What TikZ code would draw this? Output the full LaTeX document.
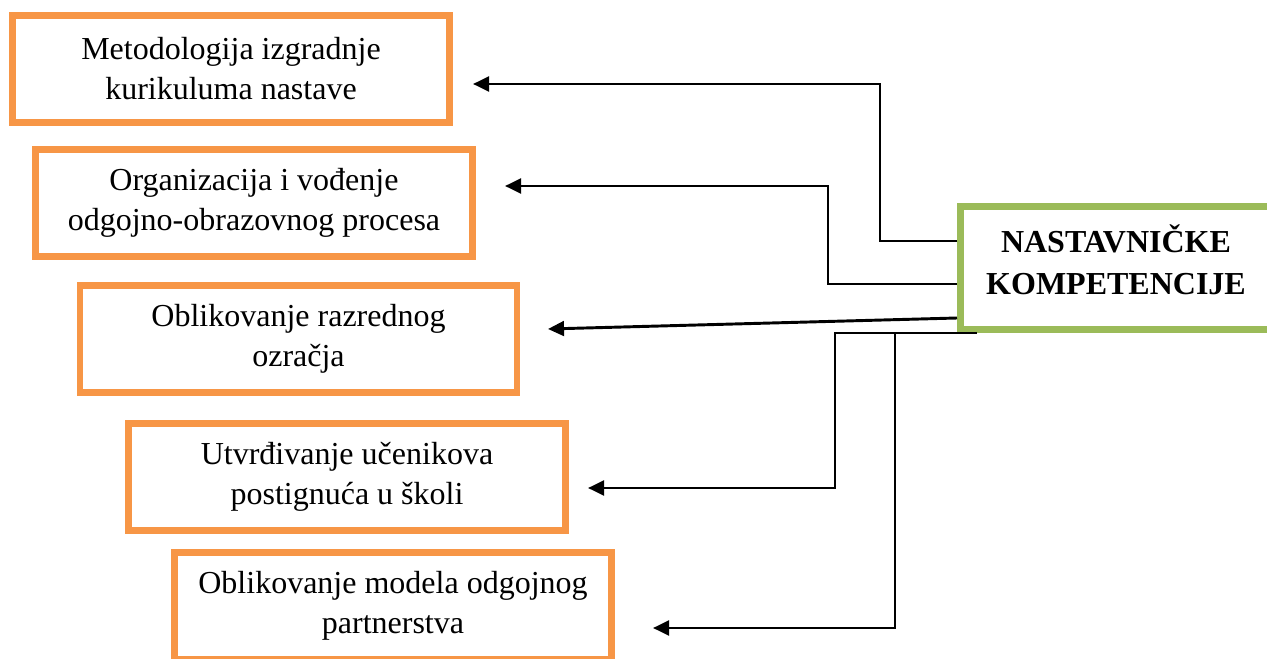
\documentclass[tikz,border=0pt]{standalone}
\usepackage{fontspec}
\setmainfont{Liberation Serif}
\usetikzlibrary{arrows.meta,calc}
\definecolor{kOrange}{HTML}{F79646}
\definecolor{kGreen}{HTML}{9BBB59}
\tikzset{every picture/.style={line width=0.75pt}}

\begin{document}
\begin{tikzpicture}[x=0.75pt,y=0.75pt,yscale=-1,xscale=1,
    obox/.style={draw=kOrange,line width=4.9pt,minimum width=328pt,minimum height=80.6pt,inner sep=0pt,align=center,font=\fontsize{24}{30}\selectfont},
    gbox/.style={draw=kGreen,line width=4.9pt,minimum width=233.6pt,minimum height=92.6pt,inner sep=0pt},
    ktext/.style={font=\fontsize{24}{31.5}\selectfont\bfseries,align=center,yshift=6.5pt},
    conn/.style={line width=2.2pt,-{Triangle[length=12pt,width=11pt]}}]
    %set diagram size to the page
    \useasboundingbox (0,0) rectangle (1267,659);
    
    %Shape: Rectangle
    \draw (231,69) node [obox] (m1) {Metodologija izgradnje\\kurikuluma nastave};
    %Shape: Rectangle
    \draw (254,203) node [obox] (m2) {Organizacija i vođenje\\odgojno-obrazovnog procesa};
    %Shape: Rectangle
    \draw (298.5,339) node [obox] (m3) {Oblikovanje razrednog\\ozračja};
    %Shape: Rectangle
    \draw (347,477) node [obox] (m4) {Utvrđivanje učenikova\\postignuća u školi};
    %Shape: Rectangle
    \draw (393,606) node [obox] (m5) {Oblikovanje modela odgojnog\\partnerstva};
    
    %Shape: Rectangle
    \draw (1116,268) node [gbox,label={[ktext]center:NASTAVNIČKE\\KOMPETENCIJE}] (kom) {};
    
    % arrow ends
    \coordinate (t1) at (473,84);
    \coordinate (t2) at (505,186);
    \coordinate (t3) at (548,329);
    \coordinate (t4) at (588,488);
    \coordinate (t5) at (653,628);
    \coordinate (b5) at ($(kom.south west)+(-62,0)$);
    
    %Straight Lines
    \draw [conn] ($(kom.west)+(0,-27)$) -- ++(-77,0) |- (t1);
    \draw [conn] ($(kom.west)+(0,16)$) -- ++(-129,0) |- (t2);
    \draw [conn] ($(kom.west)+(0,50)$) -- (t3);
    \draw [conn] ($(kom.south west)+(20,0)$) -- ++(-142,0) |- (t4);
    \draw [conn] (b5) |- (t5);
    
\end{tikzpicture}
\end{document}
